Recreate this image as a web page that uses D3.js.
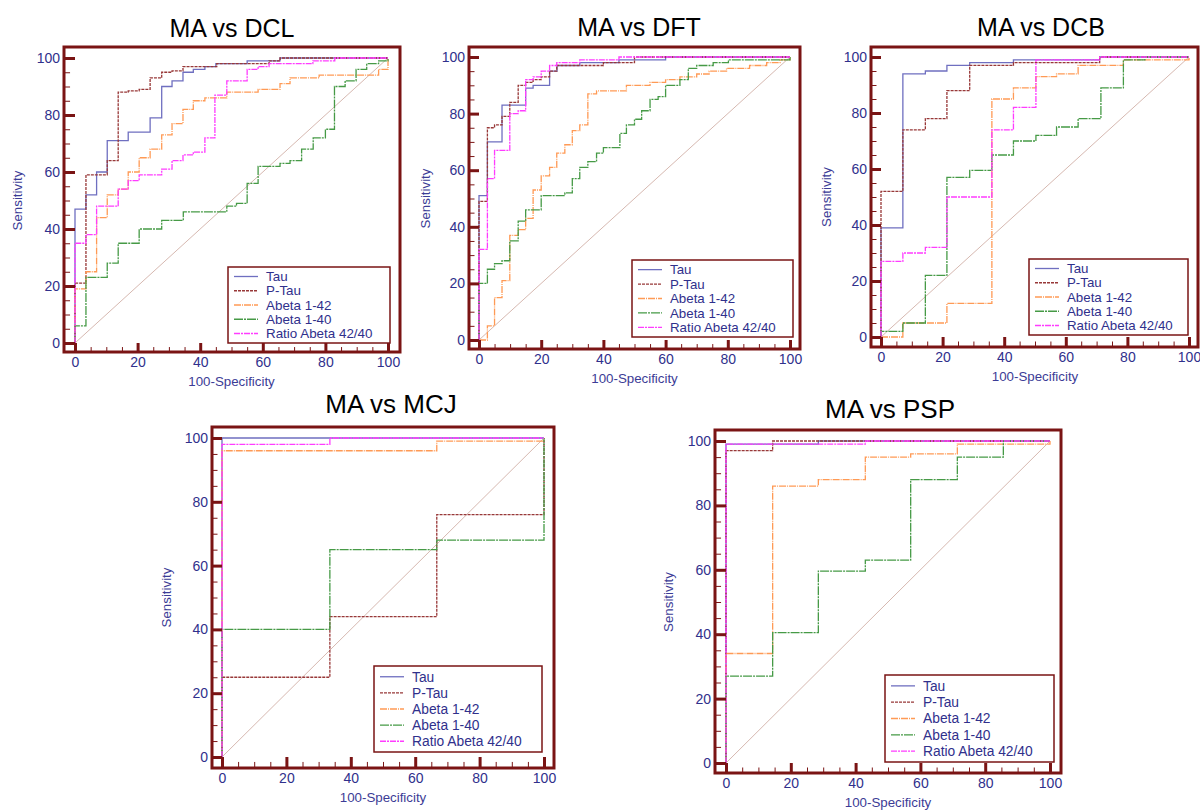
<!DOCTYPE html>
<html>
<head>
<meta charset="utf-8">
<script src="https://cdn.jsdelivr.net/npm/d3@7"></script>
<style>
  body { margin: 0; background: #fff; }
  svg { display: block; font-family: "Liberation Sans", Arial, sans-serif; }
</style>
</head>
<body>
<svg id="chart" width="1200" height="812"></svg>
<script>
// series names (legend order)
let seriesNames = ['Tau', 'P-Tau', 'Abeta 1-42', 'Abeta 1-40', 'Ratio Abeta 42/40'];
let xTicks = [0, 20, 40, 60, 80, 100];
let yTicks = [0, 20, 40, 60, 80, 100];

// ROC points [100-specificity, sensitivity] (step after)
// MA vs DCL
let dclTau = [[0,0],[0,47],[3.5,52],[6.9,60],[10.3,71],[17,74],[24,79],[27.7,90],[31,92],[34.5,95],[37.8,96],[41.5,97],[45,98],[55,99],[65.5,100],[100,100]];
let dclPTau = [[0,0],[0,21],[3.5,59],[10.3,64],[13.8,88],[17,88.5],[20.5,89],[24,93],[27.7,95],[31,95.5],[34.5,97],[41.5,97],[45.3,98],[62,99],[65.5,100],[100,100]];
let dclA42 = [[0,0],[0,19],[3.5,25],[6.9,44],[10.3,52],[13.8,54],[17,60],[20.5,65],[24,68],[27.7,73],[31,77],[34.5,82],[37.8,85],[41.5,86],[48.5,88],[58.5,89],[65.5,91],[68.7,93],[78,94],[97,96],[100,100]];
let dclA40 = [[0,0],[0,6],[3.5,23],[10.3,28],[13.8,35],[20.5,40],[27.7,43],[34.6,46],[48.5,48],[51.6,49],[55,56],[58.5,62],[65.5,63],[68.7,64],[72.4,68],[76.1,72],[80,75],[82.9,90],[86.3,92],[89.8,96],[93.2,98],[97,99],[100,100]];
let dclRatio = [[0,0],[0,35],[3.5,38],[6.9,48],[13.8,54],[17,57],[20.5,59],[27.7,61],[31,64],[34.5,66],[37.8,67],[41.5,72],[44.7,87],[48.5,92],[55,96],[58.5,97],[62,98],[76,99],[83,100],[100,100]];

// MA vs DFT
let dftTau = [[0,0],[0,51],[2.7,70],[7.4,83],[15,89],[17.4,90],[22.7,95],[25.1,97],[32.4,98],[45,99],[60,100],[100,100]];
let dftPTau = [[0,0],[0,49],[2.7,75],[5,76],[7.4,79],[9.9,84],[12.6,90],[15,91],[17.4,92],[20,93],[22.7,95],[25,97],[32.4,97],[40,98],[50,100],[100,100]];
let dftA42 = [[0,0],[2.7,5],[5,15],[7.4,21],[9.9,37],[12.6,39],[15,43],[17.4,53],[20,58],[22.7,61],[25,66],[27.6,69],[30,74],[32.4,76],[35,87],[37.8,88],[47.4,90],[55,91],[60,92],[64.6,93],[70,94],[74,95],[79.6,96],[87,97],[92.5,98],[96.8,99],[100,100]];
let dftA40 = [[0,0],[0,20],[2.7,25],[5,27],[7.4,28],[9.9,35],[12.6,42],[15,46],[20,51],[27.6,52],[30,57],[32.4,61],[35,63],[37.8,66],[40,68],[45.3,73],[47.4,76],[50,78],[52.3,81],[55,85],[57.6,86],[60,90],[64.6,92],[67.3,96],[70,97],[75.3,98],[80.2,99],[100,100]];
let dftRatio = [[0,0],[0,32],[2.7,57],[5,67],[9.9,80],[12.6,81],[15,92],[17.4,93],[20,95],[22.7,97],[25,98],[32.4,99],[45,100],[100,100]];

// MA vs DCB
let dcbTau = [[0,0],[0,39],[7.1,94],[14.4,95],[21.4,97],[28.8,98],[43,99],[71,100],[100,100]];
let dcbPTau = [[0,0],[0,52],[7.1,74],[14.4,78],[21.4,88],[28.8,97],[43,98],[71,100],[100,100]];
let dcbA42 = [[0,0],[7.1,5],[21.4,12],[36,85],[43,89],[50.3,93],[57,94],[64,97],[78.7,99],[100,100]];
let dcbA40 = [[0,0],[0,2],[7.1,5],[14.4,22],[21.4,57],[28.8,59.5],[36,65],[43,70],[50.3,72],[57,75],[64,78],[71.4,89],[78.7,99],[85.7,100],[100,100]];
let dcbRatio = [[0,0],[0,27],[7.1,30],[14.4,32],[21.4,50],[36,74],[43,82],[50.3,99],[71,100],[100,100]];

// MA vs MCJ
let mcjTau = [[0,0],[0,100],[100,100]];
let mcjPTau = [[0,0],[0,25],[33.5,44],[66.7,46.5],[66.7,76],[100,100]];
let mcjA42 = [[0,0],[0,96],[66.7,99],[100,100]];
let mcjA40 = [[0,0],[0,40],[33.5,65],[66.7,68],[100,100]];
let mcjRatio = [[0,0],[0,98],[33.5,100],[100,100]];

// MA vs PSP
let pspTau = [[0,0],[0,99],[28.5,100],[100,100]];
let pspPTau = [[0,0],[0,97],[14.4,100],[100,100]];
let pspA42 = [[0,0],[0,34],[14.4,86],[28.5,88],[43,95],[57,96],[71.4,99],[100,100]];
let pspA40 = [[0,0],[0,27],[14.4,40.5],[28.5,59.6],[43,63],[57,88],[71.4,95],[85.6,100],[100,100]];
let pspRatio = [[0,0],[0,99],[43,100],[100,100]];

// line look per series
let colors = ['#6f6fc0', '#983838', '#ff9a55', '#469a46', '#ff3cff'];
let dashes = [null, '3,1', '7,1,1,1', '9,1,2,1', '6,1,2,1'];
let frameColor = '#7a1414';
let textColor = '#30308c';

// panel layout (pixels)
let panels = [
  { title: 'MA vs DCL', tx: 232, ty: 37, fs: 25, frame: [64, 47, 400, 352], xr: [75, 388], yr: [343, 58],
    legend: [228, 267, 390, 343], lfs: 13.4, sensX: 17, data: [dclTau, dclPTau, dclA42, dclA40, dclRatio] },
  { title: 'MA vs DFT', tx: 639, ty: 36, fs: 25, frame: [469, 47, 800, 349], xr: [479, 790], yr: [340, 57],
    legend: [632, 260, 793, 337], lfs: 13.3, sensX: 425, data: [dftTau, dftPTau, dftA42, dftA40, dftRatio] },
  { title: 'MA vs DCB', tx: 1041, ty: 36, fs: 25, frame: [871, 47, 1198, 347], xr: [881, 1189], yr: [337, 57],
    legend: [1029, 259, 1188, 335], lfs: 13.3, sensX: 826, data: [dcbTau, dcbPTau, dcbA42, dcbA40, dcbRatio] },
  { title: 'MA vs MCJ', tx: 391, ty: 413, fs: 26, frame: [212, 427, 554, 768], xr: [222, 544], yr: [757, 438],
    legend: [374, 666, 542, 752], lfs: 13.8, sensX: 166, data: [mcjTau, mcjPTau, mcjA42, mcjA40, mcjRatio] },
  { title: 'MA vs PSP', tx: 890, ty: 418, fs: 26, frame: [715, 430, 1061, 773], xr: [726, 1050], yr: [763, 441],
    legend: [885, 675, 1054, 762], lfs: 13.8, sensX: 668, data: [pspTau, pspPTau, pspA42, pspA40, pspRatio] }
];

let svg = d3.select('#chart');

panels.forEach(p => {
  let g = svg.append('g');
  let x = d3.scaleLinear().domain([0, 100]).range(p.xr);
  let y = d3.scaleLinear().domain([0, 100]).range(p.yr);
  let [fx0, fy0, fx1, fy1] = p.frame;

  // title
  g.append('text')
    .attr('x', p.tx).attr('y', p.ty)
    .attr('text-anchor', 'middle')
    .style('font-size', p.fs + 'px')
    .attr('fill', '#000')
    .text(p.title);

  // diagonal reference
  g.append('line')
    .attr('x1', x(0)).attr('y1', y(0))
    .attr('x2', x(100)).attr('y2', y(100))
    .attr('stroke', '#d6b8b0').attr('stroke-width', 1);

  // curves
  let line = d3.line().x(d => x(d[0])).y(d => y(d[1])).curve(d3.curveStepAfter);
  p.data.forEach((pts, i) => {
    g.append('path')
      .datum(pts)
      .attr('d', line)
      .attr('fill', 'none')
      .attr('stroke', colors[i])
      .attr('stroke-width', 1.3)
      .attr('stroke-dasharray', dashes[i]);
  });

  // minor ticks (every 5)
  let minor = d3.range(0, 101, 5).filter(v => v % 20 !== 0);
  let yMinor = g.append('g').attr('transform', `translate(${fx0},0)`)
    .call(d3.axisLeft(y).tickValues(minor).tickSize(-(p.xr[0] - fx0) * 0.55).tickFormat(''));
  let xMinor = g.append('g').attr('transform', `translate(0,${fy1})`)
    .call(d3.axisBottom(x).tickValues(minor).tickSize(-(fy1 - p.yr[0]) * 0.55).tickFormat(''));
  [yMinor, xMinor].forEach(a => {
    a.select('.domain').remove();
    a.selectAll('line').attr('stroke', frameColor).attr('stroke-width', 1);
  });

  // major ticks + labels
  let yAxis = g.append('g').attr('transform', `translate(${fx0},0)`)
    .call(d3.axisLeft(y).tickValues(yTicks).tickSize(-(p.xr[0] - fx0)).tickPadding(4));
  let xAxis = g.append('g').attr('transform', `translate(0,${fy1})`)
    .call(d3.axisBottom(x).tickValues(xTicks).tickSize(-(fy1 - p.yr[0])).tickPadding(5));
  [yAxis, xAxis].forEach(a => {
    a.select('.domain').remove();
    a.selectAll('line').attr('stroke', frameColor).attr('stroke-width', 3);
    a.selectAll('text')
      .attr('fill', textColor)
      .style('font-size', '14px')
      .style('font-family', '"Liberation Sans", Arial, sans-serif');
  });

  // frame
  g.append('rect')
    .attr('x', fx0).attr('y', fy0)
    .attr('width', fx1 - fx0).attr('height', fy1 - fy0)
    .attr('fill', 'none')
    .attr('stroke', frameColor).attr('stroke-width', 3);

  // axis titles
  g.append('text')
    .attr('x', (p.xr[0] + p.xr[1]) / 2).attr('y', fy1 + 34)
    .attr('text-anchor', 'middle')
    .attr('fill', '#3c3c96')
    .style('font-size', '13.3px')
    .text('100-Specificity');
  g.append('text')
    .attr('transform', `translate(${p.sensX},${(p.yr[0] + p.yr[1]) / 2}) rotate(-90)`)
    .attr('text-anchor', 'middle')
    .attr('dy', '0.35em')
    .attr('fill', '#3c3c96')
    .style('font-size', '13.3px')
    .text('Sensitivity');

  // legend
  let [lx0, ly0, lx1, ly1] = p.legend;
  let lh = ly1 - ly0;
  g.append('rect')
    .attr('x', lx0).attr('y', ly0)
    .attr('width', lx1 - lx0).attr('height', lh)
    .attr('fill', '#fff')
    .attr('stroke', frameColor).attr('stroke-width', 1.5);
  seriesNames.forEach((name, i) => {
    let ry = ly0 + lh * 0.125 + i * lh * 0.1875;
    g.append('line')
      .attr('x1', lx0 + 6).attr('x2', lx0 + 30)
      .attr('y1', ry).attr('y2', ry)
      .attr('stroke', colors[i]).attr('stroke-width', 1.3)
      .attr('stroke-dasharray', dashes[i]);
    g.append('text')
      .attr('x', lx0 + 38).attr('y', ry)
      .attr('dy', '0.35em')
      .attr('fill', textColor)
      .style('font-size', p.lfs + 'px')
      .text(name);
  });
});
</script>
</body>
</html>
